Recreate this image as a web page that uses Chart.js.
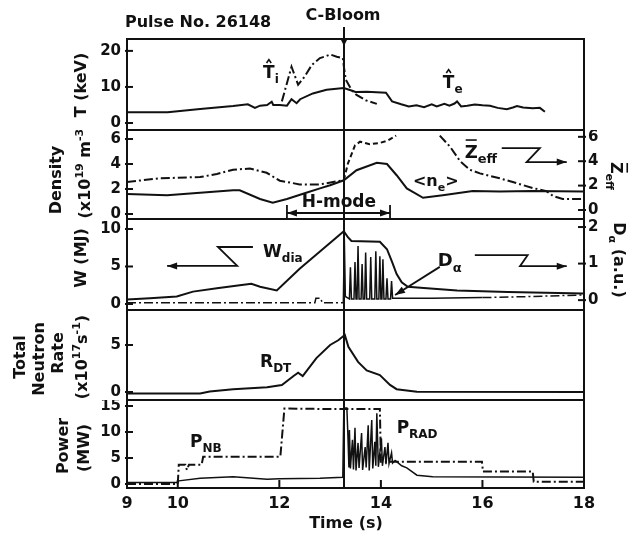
<!DOCTYPE html>
<html>
<head>
<meta charset="utf-8">
<title>Pulse No. 26148</title>
<script src="https://cdn.jsdelivr.net/npm/chart.js@4.4.1/dist/chart.umd.min.js"></script>
<style>
  html, body { margin: 0; padding: 0; background: #fff; }
  #page { position: relative; width: 635px; height: 535px; overflow: hidden; }
  canvas { position: absolute; left: 0; }
</style>
</head>
<body>
<div id="page">
  <canvas id="pT" width="635" height="130" style="top:0px"></canvas>
  <canvas id="pN" width="635" height="89" style="top:130px"></canvas>
  <canvas id="pW" width="635" height="91" style="top:219px"></canvas>
  <canvas id="pR" width="635" height="90" style="top:310px"></canvas>
  <canvas id="pP" width="635" height="135" style="top:400px"></canvas>
</div>
<script>
// ---- data: [time (s), value] ----
const xTicks = [9, 10, 12, 14, 16, 18];
const tTicks = [0, 10, 20];
const nTicks = [0, 2, 4, 6];
const zTicks = [0, 2, 4, 6];
const wTicks = [0, 5, 10];
const dTicks = [0, 1, 2];
const rTicks = [0, 5];
const pTicks = [0, 5, 10, 15];
const cBloom = 13.27;

// T (keV)
const te = [[9.0,3.0],[9.8,3.0],[10.44,3.9],[11.09,4.7],[11.38,5.2],[11.52,4.2],[11.62,4.8],[11.76,5.0],[11.85,5.9],[11.88,5.0],
  [12.01,5.0],[12.15,4.8],[12.24,6.6],[12.34,5.5],[12.41,6.6],[12.66,8.2],[12.93,9.2],[13.27,9.7],[13.42,9.0],[13.5,8.6],
  [13.72,8.7],[14.1,8.4],[14.22,6.0],[14.4,5.2],[14.55,4.6],[14.7,4.9],[14.85,4.4],[15.0,5.2],[15.1,4.6],[15.25,5.3],
  [15.35,4.8],[15.45,5.4],[15.5,6.0],[15.58,4.6],[15.7,4.8],[15.85,5.1],[16.0,4.9],[16.15,4.8],[16.3,4.2],[16.48,3.8],
  [16.6,4.3],[16.68,4.7],[16.8,4.3],[16.99,4.1],[17.13,4.2],[17.23,3.1]];
const ti = [[12.05,6.0],[12.24,15.6],[12.37,10.6],[12.5,12.9],[12.64,16.1],[12.8,18.0],[12.93,18.6],[13.0,19.0],[13.13,18.4],
  [13.25,18.0],[13.28,14.7],[13.31,12.0],[13.42,9.2],[13.52,7.8],[13.7,6.3],[13.92,5.3]];

// Density (1e19 m^-3) and Zeff
const ne = [[9.0,1.6],[9.79,1.5],[10.44,1.7],[11.09,1.9],[11.22,1.9],[11.62,1.2],[11.87,0.9],[12.15,1.2],[12.53,1.7],[12.8,2.05],
  [13.0,2.3],[13.27,2.7],[13.52,3.5],[13.92,4.1],[14.12,4.0],[14.31,3.1],[14.51,2.05],[14.83,1.3],[15.22,1.5],[15.81,1.84],
  [16.34,1.8],[16.99,1.84],[17.98,1.8]];
const zeffL = [[9.0,2.3],[9.65,2.6],[10.44,2.7],[10.77,2.95],[11.09,3.3],[11.42,3.4],[11.75,3.05],[12.01,2.4],[12.4,2.1],[12.8,2.1],[13.27,2.45]];
const zeffH = [[13.27,2.45],[13.35,3.8],[13.49,5.3],[13.59,5.6],[13.78,5.4],[13.98,5.5],[14.14,5.7],[14.3,6.1]];
const zeffA = [[15.16,6.1],[15.36,5.2],[15.56,4.0],[15.75,3.3],[15.95,3.0],[16.34,2.6],[16.67,2.2],[16.99,1.8],[17.26,1.55],
  [17.39,1.15],[17.58,0.9],[17.98,0.9]];

// W (MJ) and D-alpha (a.u.)
const wdia = [[9.0,0.6],[9.45,0.75],[9.98,1.0],[10.3,1.65],[10.77,2.1],[11.22,2.5],[11.45,2.7],[11.62,2.3],[11.95,1.8],[12.4,4.7],
  [12.8,7.0],[13.27,9.7],[13.35,8.9],[13.42,8.4],[13.98,8.3],[14.12,7.3],[14.22,5.6],[14.31,4.0],[14.41,2.9],[14.53,2.3],
  [14.91,2.1],[15.5,1.8],[16.5,1.6],[17.98,1.4]];
const dalpha = [[9.0,-0.07],[12.7,-0.07],[12.72,0.05],[12.82,0.05],[12.84,-0.07],[13.26,-0.07],[13.28,1.67],[13.3,0.1],[13.38,0.03],
  [13.4,0.9],[13.42,0.03],[13.47,0.03],[13.49,1.04],[13.51,0.03],[13.53,0.03],[13.55,1.48],[13.57,0.03],[13.61,0.03],[13.63,0.99],
  [13.65,0.03],[13.68,0.03],[13.7,1.3],[13.72,0.03],[13.78,0.03],[13.8,1.18],[13.82,0.03],[13.88,0.03],[13.9,1.34],[13.92,0.03],
  [13.96,0.03],[13.98,1.2],[14.0,0.03],[14.02,0.03],[14.04,1.12],[14.06,0.03],[14.1,0.03],[14.12,0.6],[14.14,0.03],[14.19,0.03],
  [14.21,0.52],[14.23,0.05],[15.0,0.05],[16.0,0.07],[17.0,0.1],[17.98,0.14]];

// Total neutron rate (1e17 /s)
const rdt = [[9.0,-0.15],[10.44,-0.15],[10.63,0.05],[11.09,0.3],[11.76,0.5],[12.05,0.75],[12.28,1.7],[12.37,2.05],[12.46,1.7],
  [12.73,3.6],[13.0,5.0],[13.16,5.5],[13.29,6.06],[13.36,4.8],[13.55,3.2],[13.72,2.3],[13.98,1.8],[14.18,0.75],[14.31,0.3],
  [14.71,0.03],[17.98,0.0]];

// Power (MW)
const pnb = [[9.0,0.0],[10.0,0.0],[10.02,3.7],[10.15,3.7],[10.18,2.7],[10.22,3.7],[10.47,3.7],[10.5,5.25],[12.02,5.25],[12.1,14.5],
  [13.25,14.4],[13.98,14.4],[14.0,4.3],[15.99,4.3],[16.01,2.4],[16.99,2.4],[17.01,0.45],[17.98,0.45]];
const prad = [[9.0,0.3],[9.98,0.3],[10.02,0.6],[10.44,1.1],[11.09,1.4],[11.76,0.9],[12.0,1.0],[12.8,1.1],[13.25,1.3],[13.27,14.6],
  [13.33,14.6],[13.35,9.5],[13.37,3.2],[13.38,10.4],[13.4,3.0],[13.44,8.5],[13.46,2.8],[13.49,10.8],[13.51,2.6],[13.55,7.9],
  [13.57,3.1],[13.62,9.8],[13.64,2.7],[13.69,7.1],[13.71,3.2],[13.75,11.3],[13.77,2.6],[13.82,12.3],[13.84,3.0],[13.88,8.1],
  [13.9,3.5],[13.92,13.6],[13.95,3.3],[14.01,8.8],[14.03,3.5],[14.08,7.1],[14.1,3.8],[14.14,7.9],[14.16,3.9],[14.21,6.0],
  [14.23,4.0],[14.28,4.5],[14.31,4.3],[14.41,3.5],[14.51,3.1],[14.71,1.7],[15.02,1.4],[16.34,1.35],[17.98,1.3]];

// ---- styling ----
const ink = '#111';
const FONT = 'DejaVu Sans';
const DASHDOT = [9, 3, 2, 3];
const DASH = [5, 3];

function pts(a) { return a.map(p => ({x: p[0], y: p[1]})); }

function line(data, axis, dash, width) {
  return {
    data: pts(data), yAxisID: axis, borderColor: ink, borderWidth: width || 2,
    borderDash: dash || [], pointRadius: 0, tension: 0, fill: false
  };
}

function yAxis(min, max, ticks, pos) {
  const right = pos === 'right';
  return {
    type: 'linear', position: right ? 'right' : 'left', min: min, max: max,
    grid: {display: false, drawTicks: false}, border: {display: false},
    ticks: {padding: right ? 4 : 6, color: ink, font: {family: FONT, size: 15, weight: 'bold'}},
    afterBuildTicks: s => { s.ticks = ticks.map(v => ({value: v})); },
    afterFit: s => { s.width = right ? 51 : 127; s.paddingTop = 0; s.paddingBottom = 0; }
  };
}

function xAxis(show) {
  return {
    type: 'linear', min: 9, max: 18, display: show,
    grid: {display: false, drawTicks: false}, border: {display: false},
    ticks: {padding: 6, color: ink, font: {family: FONT, size: 16, weight: 'bold'}},
    afterBuildTicks: s => { s.ticks = xTicks.map(v => ({value: v})); },
    afterFit: s => { s.height = show ? 47 : 0; s.paddingLeft = 0; s.paddingRight = 0; }
  };
}

// text with sub/superscripts, overbar and hat
function rich(ctx, x, y, parts, size, align, rot) {
  ctx.save();
  ctx.translate(x, y);
  if (rot) ctx.rotate(rot * Math.PI / 180);
  const segs = parts.map(([s, k]) => {
    const fs = (k === 'sub' || k === 'sup') ? Math.round(size * 0.7) : size;
    ctx.font = 'bold ' + fs + 'px ' + FONT;
    return {s: s, k: k, fs: fs, w: ctx.measureText(s).width};
  });
  const total = segs.reduce((a, g) => a + g.w, 0);
  let cx = align === 'center' ? -total / 2 : 0;
  const base = rot ? size * 0.36 : 0;
  ctx.textBaseline = 'alphabetic';
  ctx.textAlign = 'left';
  ctx.lineWidth = 1.6;
  segs.forEach(g => {
    ctx.font = 'bold ' + g.fs + 'px ' + FONT;
    const dy = g.k === 'sub' ? size * 0.3 : g.k === 'sup' ? -size * 0.42 : 0;
    ctx.fillText(g.s, cx, base + dy);
    if (g.k === 'bar') {
      ctx.beginPath(); ctx.moveTo(cx + 1, base - size * 1.0); ctx.lineTo(cx + g.w - 1, base - size * 1.0); ctx.stroke();
    }
    if (g.k === 'hat') {
      ctx.beginPath();
      ctx.moveTo(cx + g.w * 0.3, base - size * 0.88);
      ctx.lineTo(cx + g.w * 0.5, base - size * 1.08);
      ctx.lineTo(cx + g.w * 0.7, base - size * 0.88);
      ctx.stroke();
    }
    cx += g.w;
  });
  ctx.restore();
}

function head(ctx, from, to) {
  const ang = Math.atan2(to[1] - from[1], to[0] - from[0]), L = 10, W = 3.5;
  ctx.beginPath();
  ctx.moveTo(to[0], to[1]);
  ctx.lineTo(to[0] - L * Math.cos(ang) + W * Math.sin(ang), to[1] - L * Math.sin(ang) - W * Math.cos(ang));
  ctx.lineTo(to[0] - L * Math.cos(ang) - W * Math.sin(ang), to[1] - L * Math.sin(ang) + W * Math.cos(ang));
  ctx.closePath();
  ctx.fill();
}

const decor = {
  id: 'decor',
  afterDatasetsDraw(chart, args, o) {
    const ctx = chart.ctx, a = chart.chartArea, sx = chart.scales.x;
    ctx.save();
    ctx.strokeStyle = ink; ctx.fillStyle = ink; ctx.lineWidth = 2; ctx.setLineDash([]);

    // C-Bloom marker
    const xb = Math.round(sx.getPixelForValue(cBloom));
    ctx.beginPath();
    ctx.moveTo(xb, o.bloomTop != null ? o.bloomTop : a.top);
    ctx.lineTo(xb, a.bottom);
    ctx.stroke();
    if (o.bloomTop != null) {
      ctx.beginPath(); ctx.moveTo(xb - 3, a.top + 1); ctx.lineTo(xb + 3, a.top + 1); ctx.lineTo(xb, a.top + 7);
      ctx.closePath(); ctx.fill();
    }

    // frame + inward ticks
    ctx.strokeRect(a.left, a.top, a.right - a.left, a.bottom - a.top);
    Object.values(chart.scales).forEach(s => {
      if (!s.options.display) return;
      s.ticks.forEach(t => {
        const p = s.getPixelForValue(t.value);
        ctx.beginPath();
        if (s.axis === 'x') {
          if (p <= a.left + 1 || p >= a.right - 1) return;
          ctx.moveTo(p, a.bottom); ctx.lineTo(p, a.bottom - 8);
        } else if (s.position === 'left') {
          ctx.moveTo(a.left - 2, p); ctx.lineTo(a.left + 6, p);
        } else {
          ctx.moveTo(a.right - 6, p); ctx.lineTo(a.right + 2, p);
        }
        ctx.stroke();
      });
    });

    // arrows (data coordinates)
    (o.arrows || []).forEach(ar => {
      const sy = chart.scales[ar.axis];
      const P = ar.pts.map(p => [sx.getPixelForValue(p[0]), sy.getPixelForValue(p[1])]);
      ctx.lineWidth = 1.8;
      ctx.beginPath();
      P.forEach((p, i) => i ? ctx.lineTo(p[0], p[1]) : ctx.moveTo(p[0], p[1]));
      ctx.stroke();
      if (ar.head === 'end' || ar.head === 'both') head(ctx, P[P.length - 2], P[P.length - 1]);
      if (ar.head === 'both') head(ctx, P[1], P[0]);
    });

    // curve labels (data coordinates)
    (o.labels || []).forEach(l => {
      const sy = chart.scales[l.axis];
      rich(ctx, sx.getPixelForValue(l.t), sy.getPixelForValue(l.v), l.parts, l.size || 17, 'left', 0);
    });

    // axis titles and headings (canvas pixels)
    (o.texts || []).forEach(t => rich(ctx, t.x, t.y, t.parts, t.size || 16, t.align || 'center', t.rot || 0));
    ctx.restore();
  }
};

function panel(id, datasets, scales, padding, decorOpts) {
  return new Chart(document.getElementById(id), {
    type: 'line',
    data: {datasets: datasets},
    options: {
      responsive: false, animation: false, events: [],
      layout: {padding: padding, autoPadding: false},
      scales: scales,
      plugins: {legend: {display: false}, tooltip: {enabled: false}, decor: decorOpts}
    },
    plugins: [decor]
  });
}

// Temperature
panel('pT', [line(te, 'y'), line(ti, 'y', DASHDOT)],
  {x: xAxis(false), y: yAxis(-1.94, 23.3, tTicks)},
  {top: 39, right: 51, left: 0, bottom: 0},
  {
    bloomTop: 27,
    texts: [
      {x: 125, y: 27, parts: [['Pulse No. 26148']], size: 16, align: 'left'},
      {x: 343, y: 20, parts: [['C-Bloom']], size: 16},
      {x: 80, y: 85, rot: -90, parts: [['T (keV)']]}
    ],
    labels: [
      {t: 11.68, v: 12.5, axis: 'y', parts: [['T', 'hat'], ['i', 'sub']]},
      {t: 15.22, v: 9.7, axis: 'y', parts: [['T', 'hat'], ['e', 'sub']]}
    ]
  });

// Density / Zeff
panel('pN', [line(ne, 'y'), line(zeffL, 'y2', DASHDOT), line(zeffH, 'y2', DASH), line(zeffA, 'y2', DASHDOT)],
  {x: xAxis(false), y: yAxis(-0.4, 6.72, nTicks), y2: yAxis(-0.74, 6.56, zTicks, 'right')},
  {top: 0, right: 0, left: 0, bottom: 0},
  {
    texts: [
      {x: 55, y: 50, rot: -90, parts: [['Density']]},
      {x: 84, y: 40, rot: -90, parts: [['(x10'], ['19', 'sup'], [' m'], ['-3', 'sup'], [')']]},
      {x: 617, y: 46, rot: 90, parts: [['Z', 'bar'], ['eff', 'sub']]}
    ],
    labels: [
      {t: 15.65, v: 4.26, axis: 'y2', size: 18, parts: [['Z', 'bar'], ['eff', 'sub']]},
      {t: 14.63, v: 2.24, axis: 'y', size: 16, parts: [['<n'], ['e', 'sub'], ['>']]},
      {t: 12.44, v: 0.56, axis: 'y', size: 17, parts: [['H-mode']]}
    ],
    arrows: [
      {axis: 'y2', head: 'end', pts: [[16.38, 5.08], [17.13, 5.08], [16.87, 3.93], [17.66, 3.93]]},
      {axis: 'y', head: 'both', pts: [[12.15, 0.08], [14.18, 0.08]]},
      {axis: 'y', pts: [[12.15, 0.72], [12.15, -0.32]]},
      {axis: 'y', pts: [[14.18, 0.72], [14.18, -0.32]]}
    ]
  });

// Stored energy / D-alpha (baseline drawn dash-dot outside the ELM phase)
const dalphaLine = line(dalpha, 'y2', [], 1.5);
dalphaLine.segment = {
  borderDash: c => (c.p0.parsed.x < 13.26 || c.p0.parsed.x >= 16.0) ? DASHDOT : undefined
};
panel('pW', [line(wdia, 'y'), dalphaLine],
  {x: xAxis(false), y: yAxis(-0.8, 11.33, wTicks), y2: yAxis(-0.27, 2.22, dTicks, 'right')},
  {top: 0, right: 0, left: 0, bottom: 0},
  {
    texts: [
      {x: 80, y: 39, rot: -90, parts: [['W (MJ)']]},
      {x: 620, y: 41, rot: 90, parts: [['D'], ['α', 'sub'], [' (a.u.)']]}
    ],
    labels: [
      {t: 11.68, v: 6.27, axis: 'y', parts: [['W'], ['dia', 'sub']]},
      {t: 15.12, v: 0.93, axis: 'y2', size: 18, parts: [['D'], ['α', 'sub']]}
    ],
    arrows: [
      {axis: 'y', head: 'end', pts: [[11.48, 7.6], [10.79, 7.6], [11.17, 5.07], [9.79, 5.07]]},
      {axis: 'y2', head: 'end', pts: [[15.85, 1.23], [16.89, 1.23], [16.74, 0.93], [17.66, 0.93]]},
      {axis: 'y2', head: 'end', pts: [[15.16, 0.91], [14.28, 0.14]]}
    ]
  });

// Neutron rate
panel('pR', [line(rdt, 'y')],
  {x: xAxis(false), y: yAxis(-0.85, 8.72, rTicks)},
  {top: 0, right: 51, left: 0, bottom: 0},
  {
    texts: [
      {x: 19, y: 47, rot: -90, parts: [['Total']]},
      {x: 38, y: 49, rot: -90, parts: [['Neutron']]},
      {x: 57, y: 43, rot: -90, parts: [['Rate']]},
      {x: 81, y: 47, rot: -90, parts: [['(x10'], ['17', 'sup'], ['s'], ['-1', 'sup'], [')']]}
    ],
    labels: [
      {t: 11.62, v: 2.66, axis: 'y', parts: [['R'], ['DT', 'sub']]}
    ]
  });

// Power
panel('pP', [line(pnb, 'y', DASHDOT), line(prad, 'y', [], 1.5)],
  {x: xAxis(true), y: yAxis(-0.77, 16.15, pTicks)},
  {top: 0, right: 51, left: 0, bottom: 0},
  {
    texts: [
      {x: 62, y: 46, rot: -90, parts: [['Power']]},
      {x: 83, y: 48, rot: -90, parts: [['(MW)']]},
      {x: 346, y: 128, parts: [['Time (s)']]}
    ],
    labels: [
      {t: 10.24, v: 7.1, axis: 'y', parts: [['P'], ['NB', 'sub']]},
      {t: 14.31, v: 9.8, axis: 'y', parts: [['P'], ['RAD', 'sub']]}
    ]
  });
</script>
</body>
</html>
